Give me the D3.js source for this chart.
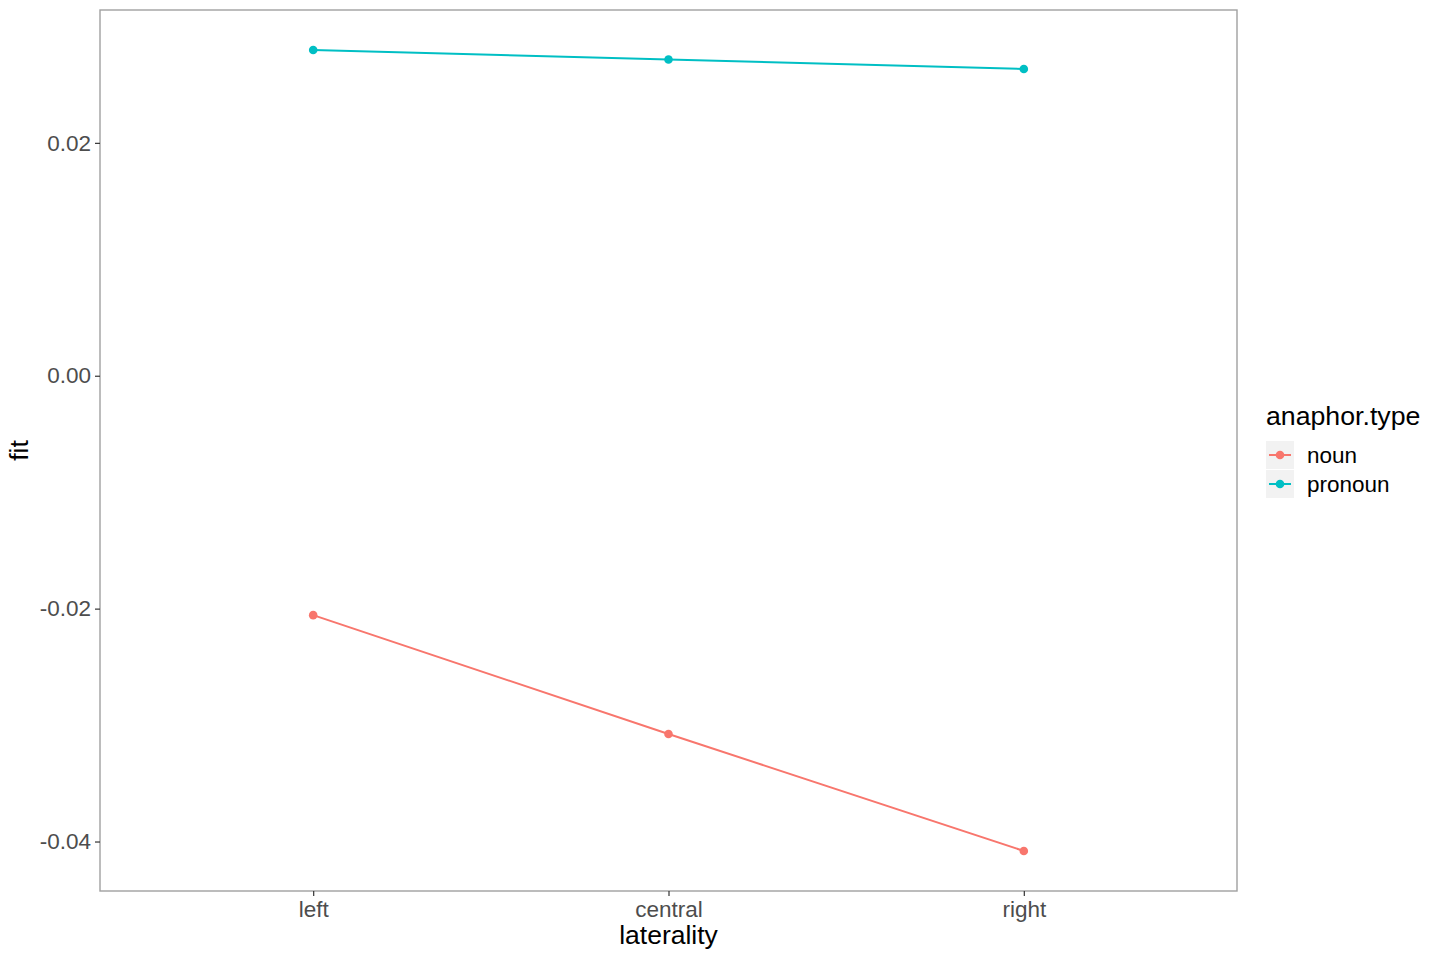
<!DOCTYPE html>
<html>
<head>
<meta charset="utf-8">
<script src="https://cdnjs.cloudflare.com/ajax/libs/d3/7.8.5/d3.min.js"></script>
<style>
  body { margin: 0; background: #fff; }
  text { font-family: "Liberation Sans", Arial, sans-serif; }
</style>
</head>
<body>
<div class="graph"></div>
<script>
// data
var laterality = ["left", "central", "right"];
var groups = ["noun", "pronoun"];
var nounFit = [-0.02056, -0.03076, -0.04081];
var pronounFit = [0.02797, 0.02716, 0.02634];
var yTicks = [-0.04, -0.02, 0.00, 0.02];
var colors = ["#F8766D", "#00BFC4"];

var series = [
  {name: groups[0], values: nounFit, color: colors[0]},
  {name: groups[1], values: pronounFit, color: colors[1]}
];

var width = 1430, height = 960;
var panel = {left: 100, top: 10, right: 1237, bottom: 891};

var svg = d3.select("div.graph").append("svg")
    .attr("width", width)
    .attr("height", height);

// discrete x scale with ggplot's 0.6 expansion
var x = d3.scalePoint()
    .domain(laterality)
    .range([panel.left, panel.right])
    .padding(0.6);

var allVals = nounFit.concat(pronounFit);
var ext = d3.extent(allVals);
var pad = (ext[1] - ext[0]) * 0.05;
var y = d3.scaleLinear()
    .domain([ext[0] - pad, ext[1] + pad])
    .range([panel.bottom, panel.top]);

// ggplot prints a plain hyphen for negatives
var fmt = function(d) { return d3.format(".2f")(d).replace("\u2212", "-"); };

// panel grid (white, invisible on white)
var grid = svg.append("g");
yTicks.forEach(function(t) {
  grid.append("line")
    .attr("x1", panel.left).attr("x2", panel.right)
    .attr("y1", y(t)).attr("y2", y(t))
    .attr("stroke", "#ffffff").attr("stroke-width", 1);
});

// border
svg.append("rect")
    .attr("x", panel.left).attr("y", panel.top)
    .attr("width", panel.right - panel.left)
    .attr("height", panel.bottom - panel.top)
    .attr("fill", "none")
    .attr("stroke", "#a0a0a0")
    .attr("stroke-width", 1.4);

// y axis
var yAxis = svg.append("g")
    .attr("transform", "translate(" + panel.left + ",0)")
    .call(d3.axisLeft(y).tickValues(yTicks).tickSize(5).tickPadding(4)
      .tickFormat(fmt));
yAxis.select(".domain").remove();
yAxis.selectAll("line").attr("stroke", "#333333").attr("stroke-width", 1.2);
yAxis.selectAll("text").attr("fill", "#4d4d4d").style("font-size", "22.5px")
    .attr("font-family", "Liberation Sans, Arial, sans-serif");

// x axis
var xAxis = svg.append("g")
    .attr("transform", "translate(0," + panel.bottom + ")")
    .call(d3.axisBottom(x).tickSize(5).tickPadding(5));
xAxis.select(".domain").remove();
xAxis.selectAll("line").attr("stroke", "#333333").attr("stroke-width", 1.2);
xAxis.selectAll("text").attr("fill", "#4d4d4d").style("font-size", "22.5px")
    .attr("font-family", "Liberation Sans, Arial, sans-serif");

// axis titles
svg.append("text")
    .attr("x", (panel.left + panel.right) / 2)
    .attr("y", 944)
    .attr("text-anchor", "middle")
    .style("font-size", "26.5px")
    .text("laterality");

svg.append("text")
    .attr("transform", "translate(28," + ((panel.top + panel.bottom) / 2) + ") rotate(-90)")
    .attr("text-anchor", "middle")
    .style("font-size", "26.5px")
    .text("fit");

// lines and points
var line = d3.line()
    .x(function(d, i) { return x(laterality[i]); })
    .y(function(d) { return y(d); });

series.forEach(function(s) {
  svg.append("path")
    .datum(s.values)
    .attr("d", line)
    .attr("fill", "none")
    .attr("stroke", s.color)
    .attr("stroke-width", 2);

  svg.selectAll(null)
    .data(s.values)
    .enter().append("circle")
      .attr("cx", function(d, i) { return x(laterality[i]); })
      .attr("cy", function(d) { return y(d); })
      .attr("r", 4.3)
      .attr("fill", s.color);
});

// legend
var legend = svg.append("g").attr("transform", "translate(1266,0)");
legend.append("text")
    .attr("x", 0).attr("y", 425)
    .style("font-size", "26.7px")
    .text("anaphor.type");

series.forEach(function(s, i) {
  var top = 441 + i * 29;
  legend.append("rect")
    .attr("x", 0).attr("y", top)
    .attr("width", 28).attr("height", 28)
    .attr("fill", "#f2f2f2");
  legend.append("line")
    .attr("x1", 3).attr("x2", 25)
    .attr("y1", top + 14).attr("y2", top + 14)
    .attr("stroke", s.color).attr("stroke-width", 2);
  legend.append("circle")
    .attr("cx", 14).attr("cy", top + 14).attr("r", 4.3)
    .attr("fill", s.color);
  legend.append("text")
    .attr("x", 41).attr("y", top + 14)
    .attr("dy", "0.35em")
    .style("font-size", "22.5px")
    .text(s.name);
});
</script>
</body>
</html>
